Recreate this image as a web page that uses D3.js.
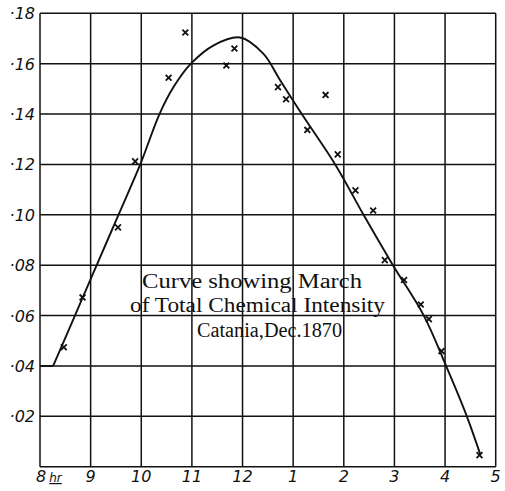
<!DOCTYPE html>
<html>
<head>
<meta charset="utf-8">
<script src="https://cdn.jsdelivr.net/npm/d3@7"></script>
<style>
  html, body { margin: 0; padding: 0; background: #fff; }
  svg { display: block; }
</style>
</head>
<body>
<script>
// ---- Data ----
const hourTicks = [8, 9, 10, 11, 12, 13, 14, 15, 16, 17];
const hourLabels = ["8", "9", "10", "11", "12", "1", "2", "3", "4", "5"];
const valueTicks = [0, 0.02, 0.04, 0.06, 0.08, 0.10, 0.12, 0.14, 0.16, 0.18];
const valueLabels = ["", "·02", "·04", "·06", "·08", "·10", "·12", "·14", "·16", "·18"];

// observed points (x marks)
const obsHour  = [8.47, 8.84, 9.54, 9.88, 10.54, 10.87, 11.68, 11.84, 12.70, 12.86, 13.28, 13.64, 13.88, 14.23, 14.58, 14.81, 15.19, 15.52, 15.68, 15.93, 16.68];
const obsValue = [0.0474, 0.0672, 0.0950, 0.1212, 0.1544, 0.1724, 0.1593, 0.1660, 0.1507, 0.1459, 0.1337, 0.1476, 0.1240, 0.1097, 0.1017, 0.0820, 0.0741, 0.0644, 0.0586, 0.0459, 0.0046];

// smoothed curve
const curveHour  = [8.0, 8.26, 8.69, 9.12, 9.55, 9.98, 10.36, 10.64, 10.98, 11.43, 11.95, 12.41, 12.74, 13.17, 13.83, 14.39, 14.97, 15.58, 16.02, 16.43, 16.70];
const curveValue = [0.040, 0.040, 0.060, 0.080, 0.100, 0.120, 0.140, 0.1508, 0.160, 0.1673, 0.1704, 0.1640, 0.1535, 0.140, 0.120, 0.100, 0.080, 0.060, 0.040, 0.020, 0.0046];

const titleLines = ["Curve showing March", "of Total Chemical Intensity", "Catania,Dec.1870"];

// ---- Chart ----
const W = 505, H = 491;
const svg = d3.select("body").append("svg").attr("width", W).attr("height", H);

const x = d3.scaleLinear().domain([8, 17]).range([40, 495.7]);
const y = d3.scaleLinear().domain([0, 0.18]).range([466.7, 13.3]);

const ink = "#111";

// grid
const grid = svg.append("g").attr("stroke", ink).attr("stroke-width", 1.5).attr("fill", "none");
grid.selectAll("line.v").data(hourTicks).join("line")
  .attr("class", "v")
  .attr("x1", d => x(d)).attr("x2", d => x(d))
  .attr("y1", y(0.18)).attr("y2", y(0));
grid.selectAll("line.h").data(valueTicks).join("line")
  .attr("class", "h")
  .attr("x1", x(8)).attr("x2", x(17))
  .attr("y1", d => y(d)).attr("y2", d => y(d));

// y labels
svg.append("g").selectAll("text").data(valueTicks.map((v, i) => ({ v, l: valueLabels[i] })).filter(d => d.l))
  .join("text")
  .attr("x", 35).attr("y", d => y(d.v) + 6)
  .attr("text-anchor", "end")
  .attr("font-family", "DejaVu Sans")
  .attr("font-style", "italic")
  .attr("font-size", 16)
  .attr("fill", ink)
  .text(d => d.l);

// x labels
const xl = svg.append("g");
xl.selectAll("text").data(hourTicks.map((h, i) => ({ h, l: hourLabels[i] })))
  .join("text")
  .attr("x", d => x(d.h))
  .attr("y", 482)
  .attr("text-anchor", d => d.h === 8 ? "start" : "middle")
  .attr("font-family", "DejaVu Sans")
  .attr("font-style", "italic")
  .attr("font-size", 16)
  .attr("fill", ink)
  .each(function (d) {
    const t = d3.select(this);
    if (d.h === 8) {
      t.attr("x", 36);
      t.append("tspan").text("8");
      t.append("tspan").attr("dx", 3).attr("font-size", 12).attr("text-decoration", "underline").text("hr");
    } else {
      t.text(d.l);
    }
  });

// curve
const pts = curveHour.map((h, i) => [h, curveValue[i]]);
const straight = d3.line().x(d => x(d[0])).y(d => y(d[1]));
const smooth = d3.line().x(d => x(d[0])).y(d => y(d[1])).curve(d3.curveCatmullRom.alpha(0.5));
svg.append("path").attr("d", straight(pts.slice(0, 2)))
  .attr("fill", "none").attr("stroke", ink).attr("stroke-width", 1.9);
svg.append("path").attr("d", smooth(pts.slice(1)))
  .attr("fill", "none").attr("stroke", ink).attr("stroke-width", 1.9);

// observation marks
const sym = d3.symbol().type(d3.symbolTimes).size(24);
svg.append("g").selectAll("path").data(obsHour.map((h, i) => [h, obsValue[i]]))
  .join("path")
  .attr("transform", d => `translate(${x(d[0])},${y(d[1])})`)
  .attr("d", sym)
  .attr("fill", "none").attr("stroke", ink).attr("stroke-width", 1.8);

// annotation
const ann = [
  { x: 142, y: 287.5, w: 220 },
  { x: 130, y: 311.5, w: 255 },
  { x: 197, y: 336.5, w: 145 }
];
svg.append("g").selectAll("text").data(titleLines)
  .join("text")
  .attr("x", (d, i) => ann[i].x)
  .attr("y", (d, i) => ann[i].y)
  .attr("textLength", (d, i) => ann[i].w)
  .attr("lengthAdjust", "spacingAndGlyphs")
  .attr("font-family", "Liberation Serif")
  .attr("font-size", 20)
  .attr("fill", ink)
  .text(d => d);
</script>
</body>
</html>
